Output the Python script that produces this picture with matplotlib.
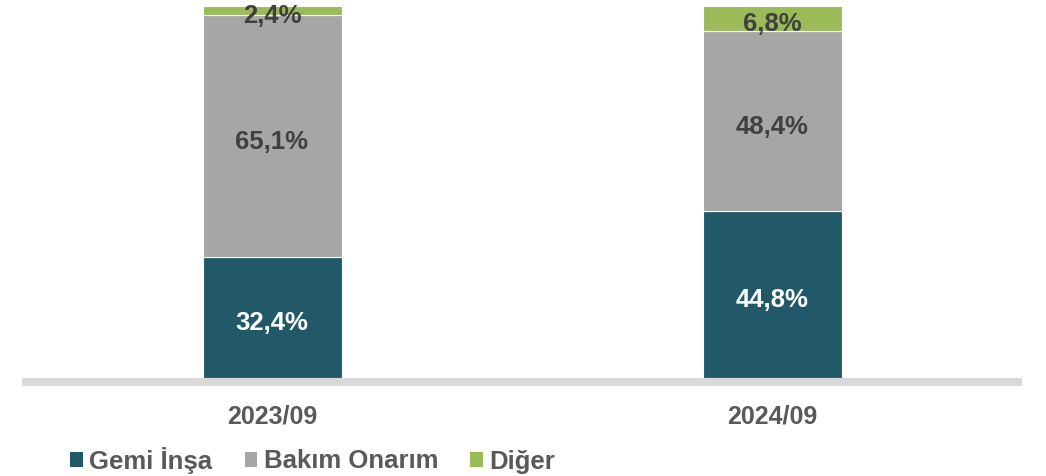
import numpy as np
import matplotlib
matplotlib.use("Agg")
from matplotlib import pyplot as plt
from matplotlib.patches import Patch

# Data
periods = ["2023/09", "2024/09"]
gemi_insa = [32.4, 44.8]
bakim_onarim = [65.1, 48.4]
diger = [2.4, 6.8]

series_names = ["Gemi İnşa", "Bakım Onarım", "Diğer"]
colors = ["#215968", "#A6A6A6", "#9BBB59"]
label_colors = ["white", "#404040", "#404040"]

plt.rcParams['font.family'] = ['Liberation Sans', 'DejaVu Sans']
plt.rcParams['font.weight'] = 'bold'

fig = plt.figure(figsize=(10.46, 4.76), dpi=100)
ax = fig.add_axes([22 / 1046, 1 - 378 / 476, 1000 / 1046, 372 / 476])

# axis line first: moving the spine resets tick label styles
for s in ["top", "left", "right"]:
    ax.spines[s].set_visible(False)
ax.spines["bottom"].set_color("#D9D9D9")
ax.spines["bottom"].set_linewidth(5.8)
ax.spines["bottom"].set_capstyle("butt")
ax.spines["bottom"].set_position(("outward", 2.9))

x = np.arange(len(periods))
bottom = np.zeros(len(periods))
for vals, name, col, lc in zip([gemi_insa, bakim_onarim, diger], series_names, colors, label_colors):
    vals = np.array(vals)
    ax.bar(x, vals, 0.278, bottom=bottom, color=col, edgecolor="white", linewidth=0.8, label=name)
    for xi, b, v in zip(x, bottom, vals):
        ax.annotate(f"{v:.1f}%".replace(".", ","), (xi, b + v / 2), xytext=(0, -4),
                    textcoords="offset points", ha="center", va="center",
                    fontsize=18.5, fontweight="bold", color=lc)
    bottom += vals

ax.set_xlim(-0.5, 1.5)
ax.set_ylim(0, 100)
ax.set_yticks([])
ax.set_xticks(x)
ax.set_xticklabels(periods, fontsize=18, fontweight="bold", color="#595959")
ax.tick_params(axis="x", length=0, pad=16)

handles = [Patch(facecolor=c, edgecolor="none") for c in colors]
fig.legend(handles, series_names, loc="center left", bbox_to_anchor=(70 / 1046, 1 - 460 / 476),
           ncol=3, frameon=False, handlelength=0.5, handleheight=0.5, handletextpad=0.25,
           columnspacing=1.25, borderaxespad=0, borderpad=0,
           prop={"size": 18.5, "weight": "bold"}, labelcolor="#595959")

fig.savefig("out.png", dpi=100)
